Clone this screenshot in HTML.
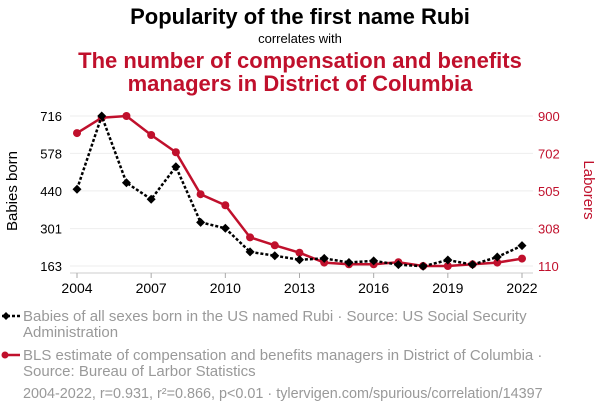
<!DOCTYPE html>
<html><head><meta charset="utf-8"><style>
body{margin:0;width:600px;height:414px;background:#fff;font-family:"Liberation Sans",sans-serif;overflow:hidden}
svg text{font-family:"Liberation Sans",sans-serif}
</style></head><body>
<svg id="c" width="600" height="414">
<text x="300" y="24" text-anchor="middle" font-size="22" font-weight="bold" fill="#000">Popularity of the first name Rubi</text>
<text x="300" y="43" text-anchor="middle" font-size="13" fill="#000">correlates with</text>
<text x="300" y="68" text-anchor="middle" font-size="22" font-weight="bold" fill="#c0102c">The number of compensation and benefits</text>
<text x="300" y="91" text-anchor="middle" font-size="22" font-weight="bold" fill="#c0102c">managers in District of Columbia</text>
<text transform="translate(17,191) rotate(-90)" text-anchor="middle" font-size="15" fill="#000">Babies born</text>
<text transform="translate(584,190) rotate(90)" text-anchor="middle" font-size="15" fill="#c0102c">Laborers</text>
<g id="grid"></g><g id="axes"></g><g id="series"></g>
<g>
<line x1="2" y1="316" x2="20" y2="316" stroke="#000" stroke-width="2.5" stroke-dasharray="3,2"/>
<path d="M2 316 L6 312 L10 316 L6 320Z" fill="#000"/>
<text x="23" y="321" font-size="15" fill="#999">Babies of all sexes born in the US named Rubi · Source: US Social Security</text>
<text x="23" y="337" font-size="15" fill="#999">Administration</text>
<line x1="4" y1="355" x2="20" y2="355" stroke="#c0102c" stroke-width="2.5"/>
<circle cx="5" cy="355" r="3.5" fill="#c0102c"/>
<text x="23" y="360" font-size="15" fill="#999">BLS estimate of compensation and benefits managers in District of Columbia ·</text>
<text x="23" y="376" font-size="15" fill="#999">Source: Bureau of Larbor Statistics</text>
<text x="23" y="398" font-size="14.4" fill="#999">2004-2022, r=0.931, r²=0.866, p&lt;0.01 · tylervigen.com/spurious/correlation/14397</text>
</g>
</svg>
<script>
const years=[2004,2005,2006,2007,2008,2009,2010,2011,2012,2013,2014,2015,2016,2017,2018,2019,2020,2021,2022];
const babies=[446,716,470,409,529,324,302,215,201,186,191,176,182,168,162,185,168,196,238];
const laborers=[810,891,900,800,709,488,430,261,219,180,128,119,119,130,110,110,119,128,149];
const leftTicks=[163,301,440,578,716];
const rightTicks=[110,308,505,702,900];
const xTicks=[2004,2007,2010,2013,2016,2019,2022];
const NS="http://www.w3.org/2000/svg";
const x=v=>77+(v-2004)*(522-77)/18;
const yL=v=>266-(v-163)*150/(716-163);
const yR=v=>266-(v-110)*150/(900-110);
function mk(tag,attrs,parent){const e=document.createElementNS(NS,tag);for(const k in attrs)e.setAttribute(k,attrs[k]);document.getElementById(parent).appendChild(e);return e;}
leftTicks.forEach((t,i)=>{
 const g=mk('line',{x1:70,x2:533,y1:yL(t),y2:yL(t),stroke:'#eee','stroke-width':1},'grid');
 
 
 const a=mk('text',{x:62,y:yL(t)+5,'text-anchor':'end','font-size':13,fill:'#000'},'axes');a.textContent=t;
 
 
 const b=mk('text',{x:538,y:yR(rightTicks[i])+5,'font-size':13,fill:'#c0102c'},'axes');b.textContent=rightTicks[i];
 
 
});
mk('line',{x1:70,x2:533,y1:273,y2:273,stroke:'#ccc'},'axes');
xTicks.forEach(t=>{
 mk('line',{x1:x(t),x2:x(t),y1:273,y2:278,stroke:'#aaa'},'axes');
 const l=mk('text',{x:x(t),y:293,'text-anchor':'middle','font-size':14,fill:'#000'},'axes');l.textContent=t;
 
 
});
const rl=mk('polyline',{points:years.map((y,i)=>x(y)+','+yR(laborers[i])).join(' '),fill:'none',stroke:'#c0102c','stroke-width':2.5},'series');


years.forEach((y,i)=>{const c=mk('circle',{cx:x(y),cy:yR(laborers[i]),r:4,fill:'#c0102c'},'series');
 
 });
const bl=mk('polyline',{points:years.map((y,i)=>x(y)+','+yL(babies[i])).join(' '),fill:'none',stroke:'#000','stroke-width':2.5,'stroke-dasharray':'3,2'},'series');


years.forEach((y,i)=>{const cx=x(y),cy=yL(babies[i]);const p=mk('path',{d:`M${cx-4.5} ${cy} L${cx} ${cy-4.5} L${cx+4.5} ${cy} L${cx} ${cy+4.5}Z`,fill:'#000'},'series');
 
 });
</script>
</body></html>
